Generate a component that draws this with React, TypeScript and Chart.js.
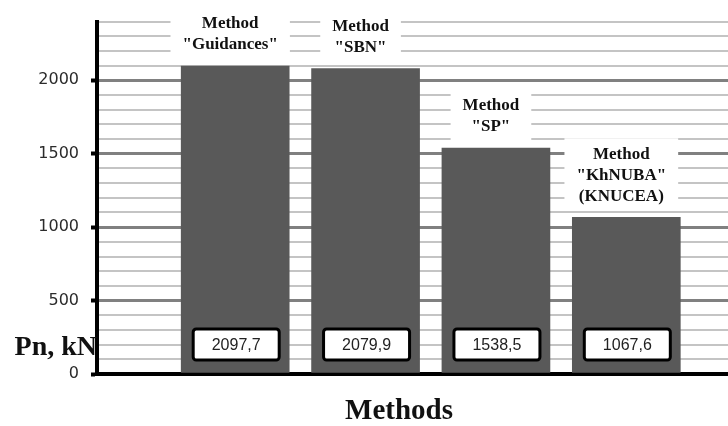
import React, { useEffect, useRef } from "react";
import { Chart, registerables } from "chart.js";

Chart.register(...registerables);

const CATEGORIES = ["Guidances", "SBN", "SP", "KhNUBA"];
const METHOD_LABELS: string[][] = [
  ["Method", "\"Guidances\""],
  ["Method", "\"SBN\""],
  ["Method", "\"SP\""],
  ["Method", "\"KhNUBA\"", "(KNUCEA)"],
];
const VALUES = [2097.7, 2079.9, 1538.5, 1067.6];
const Y_TICK_LABELS = [0, 500, 1000, 1500, 2000];
const Y_MAX = 2400;
const Y_STEP = 100;
const Y_TITLE = "Pn, kN";
const X_TITLE = "Methods";

const annotPlugin = {
  id: "annot",
  afterDatasetsDraw(chart: any) {
    const ctx: CanvasRenderingContext2D = chart.ctx;
    const meta = chart.getDatasetMeta(0);
    ctx.save();
    meta.data.forEach((bar: any, i: number) => {
      const { x, y, base } = bar.getProps(["x", "y", "base"], true);
      // method label with white background
      const lines = METHOD_LABELS[i];
      ctx.font = 'bold 17px "Liberation Serif"';
      const lh = 21;
      const maxW = Math.max(...lines.map((l) => ctx.measureText(l).width));
      const cx = x - 5;
      const lastCy = y - 21;
      const firstCy = lastCy - (lines.length - 1) * lh;
      const boxTop = firstCy - 16;
      const boxBottom = y - 7;
      ctx.fillStyle = "#ffffff";
      ctx.fillRect(cx - maxW / 2 - 12, boxTop, maxW + 24, boxBottom - boxTop);
      ctx.fillStyle = "#111111";
      ctx.textAlign = "center";
      ctx.textBaseline = "middle";
      lines.forEach((l, j) => ctx.fillText(l, cx, firstCy + j * lh));

      // value box
      const bw = 86;
      const bh = 31;
      const by = base - 28;
      ctx.beginPath();
      ctx.roundRect(x + 1 - bw / 2, by - bh / 2, bw, bh, 3);
      ctx.fillStyle = "#ffffff";
      ctx.fill();
      ctx.lineWidth = 3;
      ctx.strokeStyle = "#000000";
      ctx.stroke();
      ctx.font = '16px "Liberation Sans"';
      ctx.fillStyle = "#222222";
      ctx.fillText(VALUES[i].toFixed(1).replace(".", ","), x + 1, by + 1);
    });
    ctx.restore();
  },
  afterDraw(chart: any) {
    const ctx: CanvasRenderingContext2D = chart.ctx;
    ctx.save();
    ctx.fillStyle = "#111111";
    ctx.textBaseline = "alphabetic";
    ctx.font = 'bold 28px "Liberation Serif"';
    ctx.textAlign = "right";
    ctx.fillText(Y_TITLE, 97, 355);
    ctx.font = 'bold 29px "Liberation Serif"';
    ctx.textAlign = "center";
    ctx.fillText(X_TITLE, 399, 419);
    ctx.restore();
  },
};

export default function App() {
  const ref = useRef<HTMLCanvasElement | null>(null);
  useEffect(() => {
    if (!ref.current) return;
    const chart = new Chart(ref.current, {
      type: "bar",
      data: {
        labels: CATEGORIES,
        datasets: [
          {
            data: VALUES.map((v, i) => ({ x: i + 1, y: v })) as any,
            backgroundColor: "#595959",
            borderWidth: 0,
            barThickness: 108,
          },
        ],
      },
      options: {
        animation: false,
        responsive: true,
        maintainAspectRatio: false,
        devicePixelRatio: 1,
        layout: { padding: { top: 19, left: 0, right: 0, bottom: 0 } },
        plugins: {
          legend: { display: false },
          tooltip: { enabled: false },
        },
        scales: {
          x: {
            type: "linear",
            min: -0.06,
            max: 4.78,
            offset: false,
            ticks: { display: false, stepSize: 1, includeBounds: false },
            grid: { display: false },
            border: { display: true, color: "#000000", width: 4 },
            afterFit: (s: any) => {
              s.height = 52;
            },
          },
          y: {
            min: 0,
            max: Y_MAX,
            ticks: {
              stepSize: Y_STEP,
              autoSkip: false,
              padding: 12,
              color: "#2b2b2b",
              font: { family: "DejaVu Sans", size: 16 },
              callback: (v: any) => (Y_TICK_LABELS.includes(Number(v)) ? String(v) : ""),
            },
            grid: {
              color: (c: any) => (c.tick && c.tick.value % 500 === 0 ? "#808080" : "#c4c4c4"),
              lineWidth: (c: any) => (c.tick && c.tick.value % 500 === 0 ? 3 : 2),
              tickColor: (c: any) => (c.tick && Y_TICK_LABELS.includes(c.tick.value) ? "#000000" : "rgba(0,0,0,0)"),
              tickWidth: 4,
              tickLength: 6,
            },
            border: { display: true, color: "#000000", width: 4 },
            afterFit: (s: any) => {
              s.width = 97;
            },
          },
        },
      },
      plugins: [annotPlugin],
    });
    return () => chart.destroy();
  }, []);
  return (
    <div style={{ position: "absolute", left: 0, top: 0, width: 728, height: 426, background: "#fff" }}>
      <canvas ref={ref} />
    </div>
  );
}
